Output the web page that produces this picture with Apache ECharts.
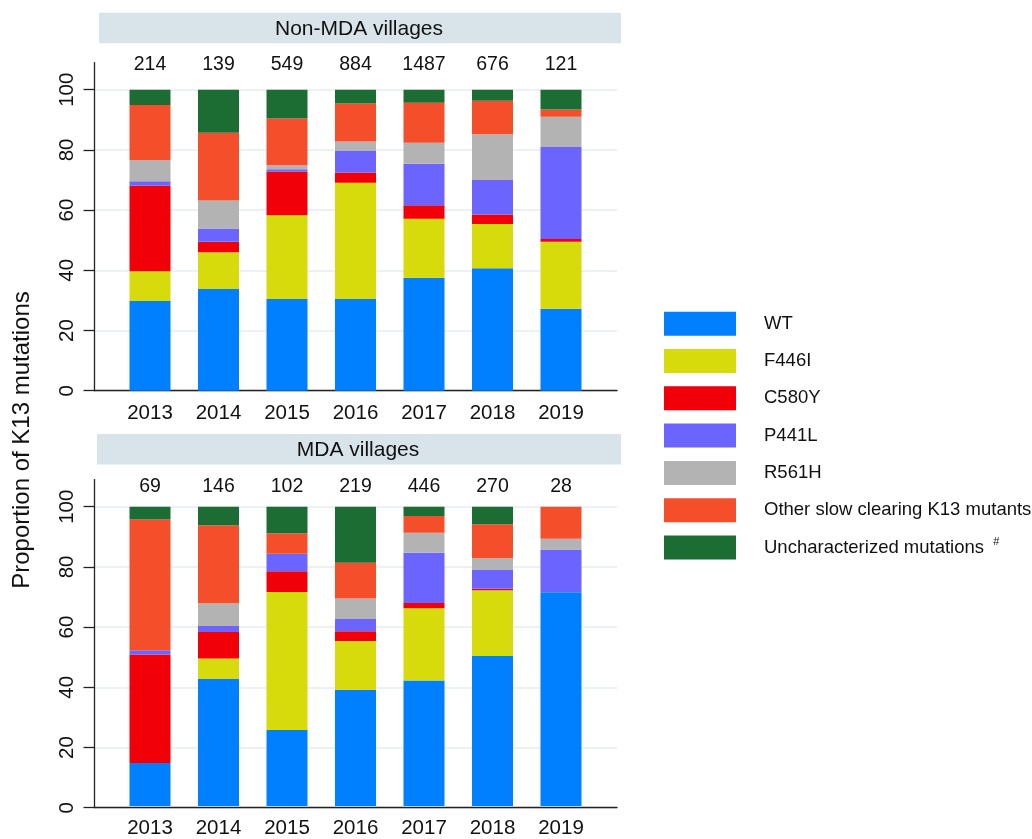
<!DOCTYPE html>
<html>
<head>
<meta charset="utf-8">
<script src="https://cdn.jsdelivr.net/npm/echarts@6/dist/echarts.min.js"></script>
<style>
  html, body { margin: 0; padding: 0; background: #ffffff; }
  #chart { width: 1032px; height: 839px; }
</style>
</head>
<body>
<div id="chart"></div>
<script>
// Survey years and sample sizes (n) per year
const years = ['2013', '2014', '2015', '2016', '2017', '2018', '2019'];
const countsNonMDA = ['214', '139', '549', '884', '1487', '676', '121'];
const countsMDA = ['69', '146', '102', '219', '446', '270', '28'];
const yTicks = [0, 20, 40, 60, 80, 100];

// K13 genotype groups, stacked bottom to top
const genotypes = ['WT', 'F446I', 'C580Y', 'P441L', 'R561H',
  'Other slow clearing K13 mutants', 'Uncharacterized mutations'];
const genotypeColors = ['#0080ff', '#d7da0b', '#f2000a', '#6c64fe', '#b3b3b3', '#f44f2a', '#1c6d33'];

// Non-MDA villages: percentage of isolates per genotype, 2013..2019
const nonWT    = [29.8, 33.8, 30.5, 30.5, 37.5, 40.7, 27.2];
const nonF446I = [9.9, 12.2, 27.8, 38.6, 19.6, 14.7, 22.3];
const nonC580Y = [28.5, 3.5, 14.5, 3.4, 4.5, 3.1, 0.9];
const nonP441L = [1.4, 4.4, 0.8, 7.1, 13.8, 11.5, 30.6];
const nonR561H = [7.0, 9.3, 1.3, 3.2, 7.0, 15.2, 10.0];
const nonOther = [18.3, 22.5, 15.5, 12.6, 13.3, 11.1, 2.4];
const nonUnchar = [5.1, 14.3, 9.6, 4.6, 4.3, 3.7, 6.6];

// MDA villages: percentage of isolates per genotype, 2013..2019
const mdaWT    = [14.4, 42.4, 25.4, 38.8, 41.9, 50.1, 71.4];
const mdaF446I = [0, 6.9, 46.1, 16.3, 24.2, 22.0, 0];
const mdaC580Y = [36.2, 8.8, 6.9, 3.3, 1.7, 0.5, 0];
const mdaP441L = [1.4, 2.0, 5.9, 4.1, 16.8, 6.4, 14.3];
const mdaR561H = [0, 7.6, 0, 6.8, 6.7, 3.9, 3.6];
const mdaOther = [43.7, 26.1, 6.8, 12.0, 5.6, 11.2, 10.7];
const mdaUnchar = [4.3, 6.2, 8.9, 18.7, 3.1, 5.9, 0];

const nonMDA = [nonWT, nonF446I, nonC580Y, nonP441L, nonR561H, nonOther, nonUnchar];
const mda = [mdaWT, mdaF446I, mdaC580Y, mdaP441L, mdaR561H, mdaOther, mdaUnchar];

const FONT = 'Liberation Sans, Arial, Helvetica, sans-serif';
const INK = '#111111';

// Panel geometry (pixels): frame spans the full axis box, bars sit in a narrower inner band
const PX_PER_UNIT = 3.01;
const FRAME_LEFT = 94.5, FRAME_WIDTH = 522.5;
const BAND_LEFT = 115.75, BAND_WIDTH = 479.5;
const FRAME_MAX = 109;
const panels = [
  { zeroY: 390.7, values: nonMDA, counts: countsNonMDA, countMargin: 15, title: 'Non-MDA villages',
    bar: { x: 99, y: 12.7, w: 522, h: 30.6 } },
  { zeroY: 807.7, values: mda, counts: countsMDA, countMargin: 10, title: 'MDA villages',
    bar: { x: 97, y: 434, w: 524, h: 30.4 } }
];

const grids = [], xAxes = [], yAxes = [], series = [], graphics = [];

panels.forEach((p, pi) => {
  const frameH = FRAME_MAX * PX_PER_UNIT;
  const dataH = 100 * PX_PER_UNIT;
  // frame grid: axis lines, ticks, tick labels and gridlines
  grids.push({ left: FRAME_LEFT, top: p.zeroY - frameH, width: FRAME_WIDTH, height: frameH });
  // bar grid
  grids.push({ left: BAND_LEFT, top: p.zeroY - dataH, width: BAND_WIDTH, height: dataH });
  const gFrame = pi * 2, gData = pi * 2 + 1;

  xAxes.push({
    gridIndex: gFrame, type: 'category', data: years,
    axisLine: { show: true, lineStyle: { color: '#222', width: 1.3 } },
    axisTick: { show: false }, axisLabel: { show: false }, splitLine: { show: false }
  });
  yAxes.push({
    gridIndex: gFrame, type: 'value', min: 0, max: FRAME_MAX,
    axisLine: { show: true, lineStyle: { color: '#222', width: 1.3 } },
    axisTick: { show: true, customValues: yTicks, length: 11, lineStyle: { color: '#222', width: 1.3 } },
    axisLabel: { show: true, customValues: yTicks, rotate: 90, margin: 17,
      fontSize: 20.5, fontFamily: FONT, color: INK },
    splitLine: { show: true, lineStyle: { color: '#e4ecf0', width: 1.5 } }
  });

  const xYears = xAxes.length;
  xAxes.push({
    gridIndex: gData, type: 'category', data: years, position: 'bottom',
    axisLine: { show: false }, axisTick: { show: false },
    axisLabel: { margin: 12, fontSize: 20.5, fontFamily: FONT, color: INK }
  });
  xAxes.push({
    gridIndex: gData, type: 'category', data: p.counts, position: 'top',
    axisLine: { show: false }, axisTick: { show: false },
    axisLabel: { margin: p.countMargin, fontSize: 19.5, fontFamily: FONT, color: INK }
  });
  const yData = yAxes.length;
  yAxes.push({ gridIndex: gData, type: 'value', min: 0, max: 100, show: false, splitLine: { show: false } });

  genotypes.forEach((g, gi) => {
    series.push({
      type: 'bar', name: g, stack: 'panel' + pi,
      xAxisIndex: xYears, yAxisIndex: yData,
      barWidth: 41,
      itemStyle: { color: genotypeColors[gi] },
      data: p.values[gi],
      emphasis: { disabled: true }
    });
  });

  // panel header strip
  graphics.push({
    type: 'rect', shape: { x: p.bar.x, y: p.bar.y, width: p.bar.w, height: p.bar.h },
    style: { fill: '#d9e4ea' }, silent: true
  });
  graphics.push({
    type: 'text', x: p.bar.x + p.bar.w / 2 - 1, y: p.bar.y + p.bar.h / 2 + 1,
    style: { text: p.title, fontSize: 21, fontFamily: FONT, fill: INK,
      textAlign: 'center', textVerticalAlign: 'middle' }, silent: true
  });
});

// shared y-axis title
graphics.push({
  type: 'text', x: 22, y: 440, rotation: Math.PI / 2,
  style: { text: 'Proportion of K13 mutations', fontSize: 24, fontFamily: FONT, fill: INK,
    textAlign: 'center', textVerticalAlign: 'middle' }, silent: true
});

const chart = echarts.init(document.getElementById('chart'), null, { renderer: 'canvas' });
chart.setOption({
  animation: false,
  backgroundColor: '#ffffff',
  grid: grids,
  xAxis: xAxes,
  yAxis: yAxes,
  legend: {
    orient: 'vertical', left: 664, top: 311.7, padding: 0,
    icon: 'rect', itemWidth: 72, itemHeight: 24, itemGap: 13.3,
    data: genotypes,
    selectedMode: false,
    formatter: name => name === 'Uncharacterized mutations' ? name + ' {sup|#}' : name,
    textStyle: {
      fontSize: 18.5, fontFamily: FONT, color: INK, padding: [0, 0, 0, 23],
      rich: { sup: { fontSize: 11, fontFamily: FONT, color: INK, padding: [0, 0, 12, 4] } }
    }
  },
  graphic: graphics,
  series: series
});
</script>
</body>
</html>
